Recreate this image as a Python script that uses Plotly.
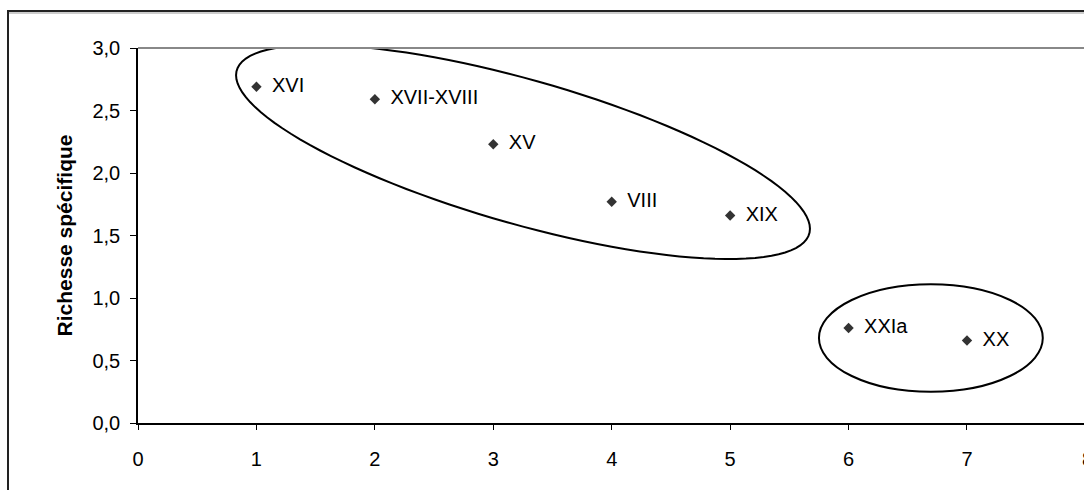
import numpy as np
import plotly.graph_objects as go

# Data
x_vals = [1, 2, 3, 4, 5, 6, 7]
richesse = [2.69, 2.59, 2.23, 1.77, 1.66, 0.76, 0.66]
point_labels = ["XVI", "XVII-XVIII", "XV", "VIII", "XIX", "XXIa", "XX"]
y_tickvals = [0, 0.5, 1.0, 1.5, 2.0, 2.5, 3.0]
y_ticktext = ["0,0", "0,5", "1,0", "1,5", "2,0", "2,5", "3,0"]
x_tickvals = [0, 1, 2, 3, 4, 5, 6, 7]
x_ticktext = ["0", "1", "2", "3", "4", "5", "6", "7"]

FONT = "Liberation Sans, Arial, sans-serif"

fig = go.Figure()
fig.add_trace(go.Scatter(
    x=x_vals, y=richesse, mode="markers+text",
    text=[" \u2009" + t for t in point_labels], textposition="middle right",
    textfont=dict(family=FONT, size=20, color="#000000"),
    marker=dict(symbol="diamond", size=8, color="#333333"),
    cliponaxis=False, showlegend=False,
))

# Group ellipses (in data units)
t = np.linspace(0, 2 * np.pi, 121)
cx, cy = 3.251, 2.168
ex = cx + 2.423 * np.cos(t)
ey = cy - 0.614 * np.cos(t) - 0.597 * np.sin(t)
path = "M " + " L ".join(f"{a:.4f},{b:.4f}" for a, b in zip(ex, ey)) + " Z"

shapes = [
    dict(type="path", xref="x", yref="y", path=path,
         line=dict(color="black", width=2), layer="above"),
    dict(type="circle", xref="x", yref="y", x0=5.75, x1=7.64, y0=0.25, y1=1.11,
         line=dict(color="black", width=2), layer="above"),
    # plot-area top border (gray)
    dict(type="line", xref="paper", yref="paper", x0=0, x1=1.01, y0=1, y1=1,
         line=dict(color="#888888", width=2)),
    # outer chart frame
    dict(type="rect", xref="paper", yref="paper",
         x0=(8 - 138) / 946, x1=1.2, y0=(423 - 11) / 375, y1=-0.5,
         line=dict(color="#222222", width=2), fillcolor="rgba(0,0,0,0)"),
    dict(type="line", xref="paper", yref="paper",
         x0=(9 - 138) / 946, x1=1.2, y0=(423 - 13) / 375, y1=(423 - 13) / 375,
         line=dict(color="#999999", width=1)),
]

fig.update_layout(
    width=1084, height=490,
    margin=dict(l=138, r=0, t=48, b=67),
    paper_bgcolor="white", plot_bgcolor="white",
    shapes=shapes,
    font=dict(family=FONT, size=20, color="#000000"),
    xaxis=dict(range=[0, 7.988], tickvals=x_tickvals, ticktext=x_ticktext,
               showgrid=False, zeroline=False, showline=True, linecolor="black",
               linewidth=1.5, ticks="outside", ticklen=5, tickcolor="black",
               ticklabelstandoff=12,
               tickfont=dict(family=FONT, size=20)),
    yaxis=dict(range=[0, 3], tickvals=y_tickvals, ticktext=y_ticktext,
               showgrid=False, zeroline=False, showline=True, linecolor="black",
               linewidth=1.5, ticks="outside", ticklen=6, tickcolor="black",
               ticklabelstandoff=6,
               tickfont=dict(family=FONT, size=20),
               title=dict(text="<b>Richesse spécifique</b>",
                          font=dict(family=FONT, size=21), standoff=14)),
    annotations=[dict(text="8", xref="paper", yref="paper",
                      x=(1080 - 138) / 946, y=0, xanchor="left",
                      yshift=-36, showarrow=False, yanchor="middle",
                      font=dict(family=FONT, size=20))],
)

fig.write_html("out.html", config={"displayModeBar": False},
               post_script="document.body.style.margin='0';document.body.style.padding='0';")
